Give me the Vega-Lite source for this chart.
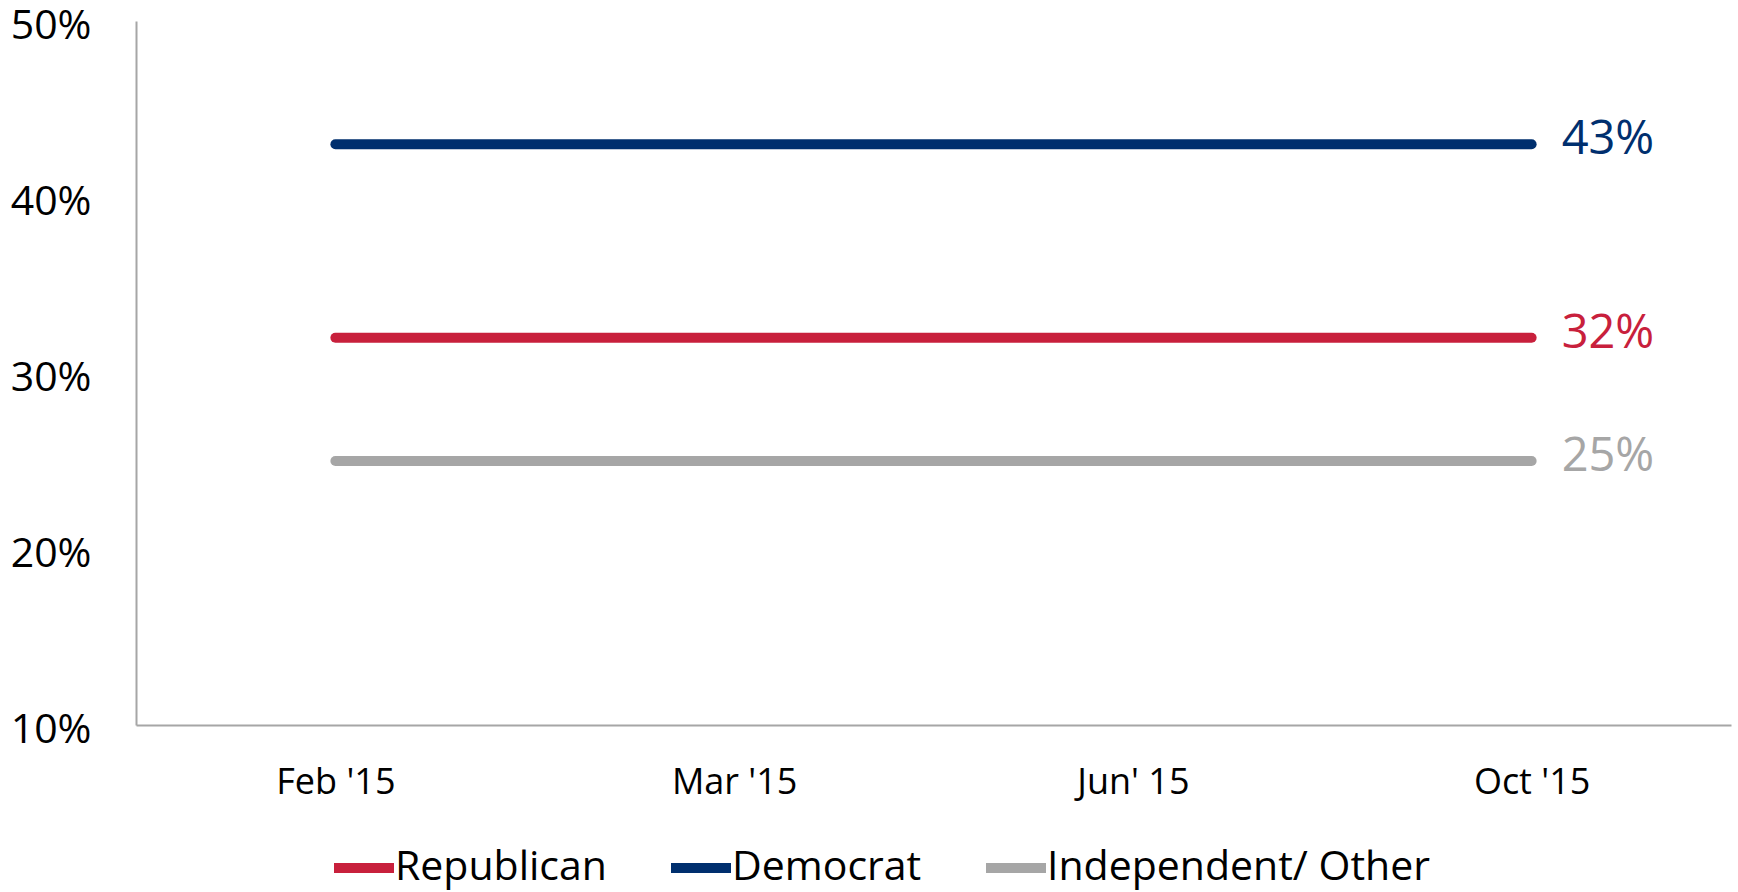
{
  "$schema": "https://vega.github.io/schema/vega-lite/v6.json",
  "width": 1595,
  "height": 704,
  "autosize": "none",
  "padding": {"left": 136, "top": 21, "right": 7, "bottom": 167},
  "background": "white",
  "config": {
    "view": {"stroke": null},
    "font": "Open Sans"
  },
  "data": {
    "values": [
      {"month": "Feb '15", "party": "Republican", "share": 0.32},
      {"month": "Mar '15", "party": "Republican", "share": 0.32},
      {"month": "Jun' 15", "party": "Republican", "share": 0.32},
      {"month": "Oct '15", "party": "Republican", "share": 0.32},
      {"month": "Feb '15", "party": "Democrat", "share": 0.43},
      {"month": "Mar '15", "party": "Democrat", "share": 0.43},
      {"month": "Jun' 15", "party": "Democrat", "share": 0.43},
      {"month": "Oct '15", "party": "Democrat", "share": 0.43},
      {"month": "Feb '15", "party": "Independent/ Other", "share": 0.25},
      {"month": "Mar '15", "party": "Independent/ Other", "share": 0.25},
      {"month": "Jun' 15", "party": "Independent/ Other", "share": 0.25},
      {"month": "Oct '15", "party": "Independent/ Other", "share": 0.25}
    ]
  },
  "encoding": {
    "x": {
      "field": "month",
      "type": "ordinal",
      "sort": ["Feb '15", "Mar '15", "Jun' 15", "Oct '15"],
      "scale": {"type": "point", "padding": 0.5},
      "axis": {
        "title": null,
        "labelAngle": 0,
        "ticks": false,
        "grid": false,
        "domainColor": "#a6a6a6",
        "domainWidth": 2,
        "labelFont": "Open Sans",
        "labelFontSize": 36,
        "labelColor": "#000000",
        "labelBaseline": "middle",
        "labelPadding": 57
      }
    },
    "y": {
      "field": "share",
      "type": "quantitative",
      "scale": {"domain": [0.1, 0.5], "nice": false, "zero": false},
      "axis": {
        "title": null,
        "values": [0.1, 0.2, 0.3, 0.4, 0.5],
        "format": ".0%",
        "ticks": false,
        "grid": false,
        "domainColor": "#a6a6a6",
        "domainWidth": 2,
        "labelFont": "Open Sans",
        "labelFontSize": 41,
        "labelColor": "#000000",
        "labelPadding": 45,
        "labelOffset": 5,
        "labelBound": false,
        "labelFlush": false
      }
    },
    "color": {
      "field": "party",
      "type": "nominal",
      "scale": {
        "domain": ["Republican", "Democrat", "Independent/ Other"],
        "range": ["#c8203c", "#002f6e", "#a6a6a6"]
      }
    }
  },
  "layer": [
    {
      "mark": {"type": "line", "strokeWidth": 10, "strokeCap": "round"},
      "encoding": {
        "color": {
          "field": "party",
          "type": "nominal",
          "legend": {
            "title": null,
            "orient": "none",
            "direction": "horizontal",
            "legendX": 193,
            "legendY": 812,
            "symbolType": "stroke",
            "symbolSize": 3600,
            "symbolStrokeWidth": 10,
            "labelFont": "Open Sans",
            "labelFontSize": 41,
            "labelColor": "#000000",
            "labelLimit": 600,
            "labelOffset": -4,
            "columnPadding": 44,
            "padding": 0
          }
        }
      }
    },
    {
      "transform": [{"filter": "datum.month === \"Oct '15\""}],
      "mark": {"type": "text", "align": "left", "baseline": "middle", "dx": 30, "dy": -4, "fontSize": 47, "font": "Open Sans"},
      "encoding": {
        "text": {"field": "share", "type": "quantitative", "format": ".0%"},
        "color": {"field": "party", "type": "nominal", "legend": null}
      }
    }
  ]
}
